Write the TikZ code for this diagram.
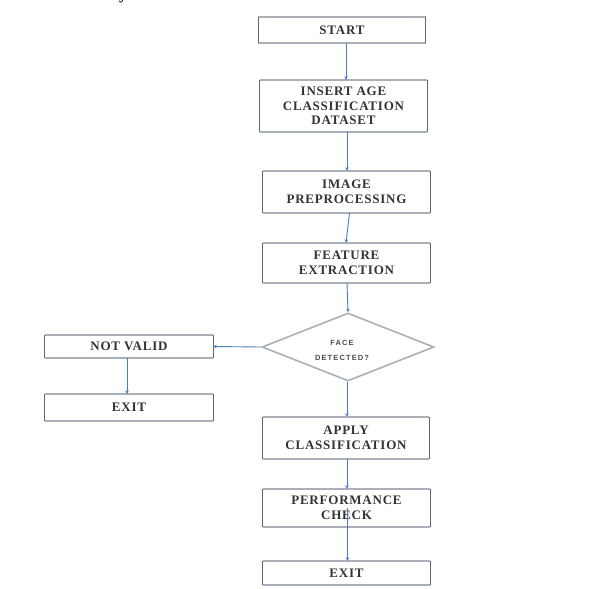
\documentclass[tikz,border=0pt]{standalone}
\usepackage{fontspec}
\setmainfont{Liberation Serif}
\newfontfamily\boxfont[LetterSpace=6]{Liberation Serif}
\newfontfamily\dfont[LetterSpace=15]{Liberation Sans}
\usetikzlibrary{shapes.geometric,arrows.meta}
\definecolor{edgeh}{HTML}{AAB0B8}
\definecolor{edgev}{HTML}{62666B}
\definecolor{txt}{HTML}{333333}
\definecolor{dtxt}{HTML}{4A4A4A}
\definecolor{link}{HTML}{4A7EBB}
\tikzset{
  procbox/.style={rectangle, minimum width=167pt, minimum height=#1, inner sep=0pt,
    align=center, text=txt, draw=none,
    font=\boxfont\bfseries\fontsize{13}{14.5}\selectfont},
  hpen/.style={draw=edgeh, line width=1.7pt},
  vpen/.style={draw=edgev, line width=0.7pt},
  decision/.style={diamond, minimum width=172pt, minimum height=68pt, inner sep=0pt,
    draw=edgeh, line width=1.6pt},
  dlabel/.style={inner sep=0pt, align=center, text=dtxt,
    font=\dfont\bfseries\fontsize{7.5}{15}\selectfont},
  arr/.style={draw=link, line width=0.9pt, -{Stealth[length=3.5pt,width=3.5pt]}},
}
\begin{document}
\begin{tikzpicture}[x=1pt,y=-1pt]
\useasboundingbox (0,0) rectangle (596,588);
% fragment of cut-off text above the figure
\node[anchor=base, inner sep=0pt, text=black, font=\bfseries\fontsize{16}{16}\selectfont] (frag) at (123,-0.6) {y};

\coordinate (col) at (347,0);
\coordinate (colA) at (346,0);

\node[procbox=26pt]  (start)   at (342,30)    {START};
\node[procbox=52pt]  (insert)  at (343.5,106) {INSERT AGE\\CLASSIFICATION\\DATASET};
\node[procbox=42pt]  (image)   at (346.5,192) {IMAGE\\PREPROCESSING};
\node[procbox=40pt]  (feature) at (346.5,263) {FEATURE\\EXTRACTION};
\node[decision]      (face)    at (348,347)   {};
\node[dlabel]        (facetxt) at (342,350)   {FACE\\DETECTED?};
\node[procbox=23pt, minimum width=168pt] (notvalid) at (129,346.5) {NOT VALID};
\node[procbox=27pt, minimum width=168pt] (exitA)    at (129,407.5) {EXIT};
\node[procbox=42pt, minimum width=166pt] (apply)    at (346,438)   {APPLY\\CLASSIFICATION};
\node[procbox=38pt]  (perf)    at (346.5,508) {PERFORMANCE\\CHECK};
\node[procbox=24pt]  (exitB)   at (346.5,573) {EXIT};

\foreach \n in {start,insert,image,feature,notvalid,exitA,apply,perf,exitB}{
  \draw[hpen] (\n.north west) -- (\n.north east) (\n.south west) -- (\n.south east);
  \draw[vpen] (\n.north west) -- (\n.south west) (\n.north east) -- (\n.south east);
}

\draw[arr] (start.south -| colA) -- (insert.north -| colA);
\draw[arr] (insert.south -| col) -- (image.north -| col);
\draw[arr] ([xshift=3pt]image.south) -- ([xshift=-0.5pt]feature.north);
\draw[arr] (feature.south -| col) -- (face.north);
\draw[arr] (face.west) -- (notvalid.east);
\draw[arr] ([xshift=-2pt]notvalid.south) -- ([xshift=-2pt]exitA.north);
\draw[arr] (face.south -| col) -- (apply.north -| col);
\draw[arr] (apply.south -| col) -- (perf.north -| col);
\draw[arr] ([xshift=1pt]perf.center) -- ([xshift=1pt]exitB.north);
\end{tikzpicture}
\end{document}
